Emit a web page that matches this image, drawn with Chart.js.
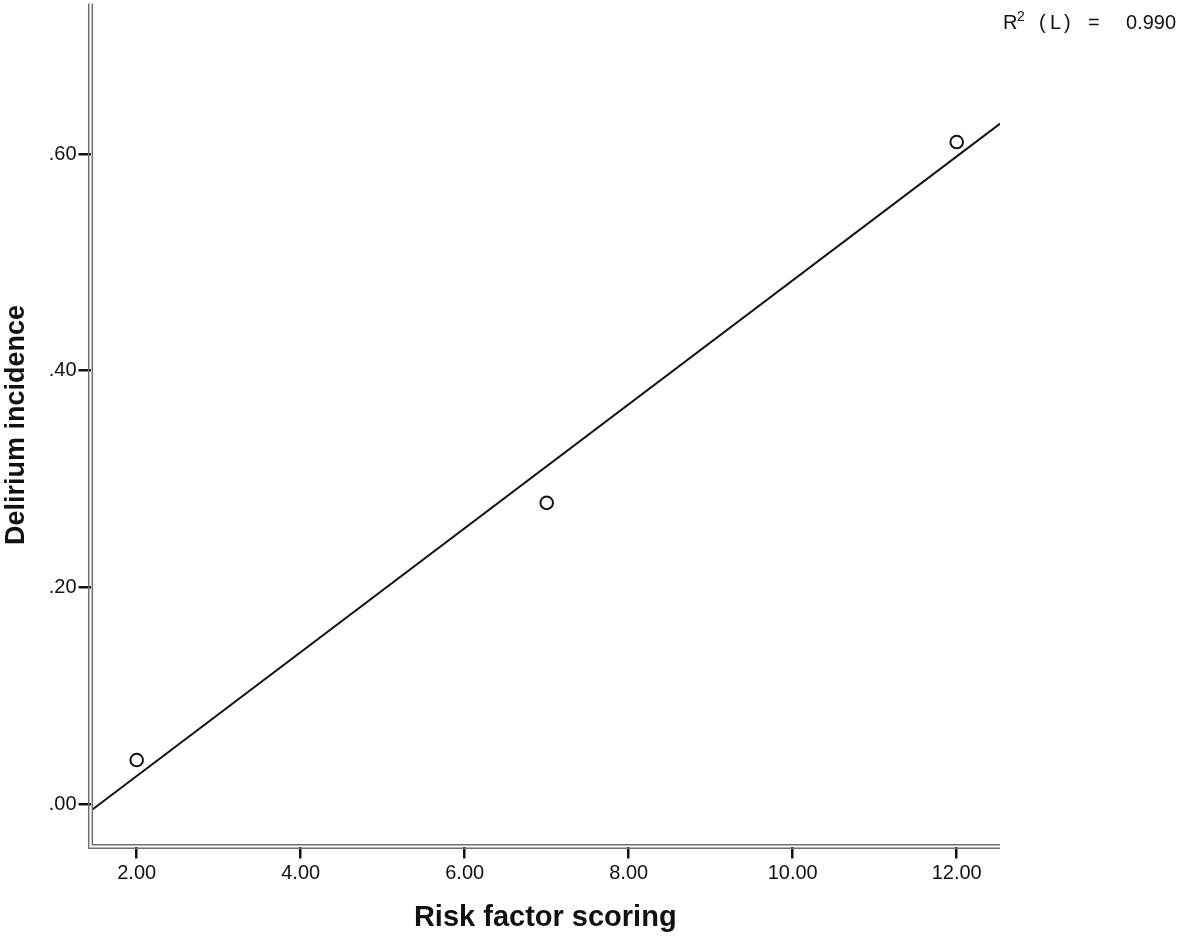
<!DOCTYPE html>
<html>
<head>
<meta charset="utf-8">
<script src="https://cdn.jsdelivr.net/npm/chart.js@4"></script>
<style>
    body { margin: 0; background: #fff; }
    #wrap { width: 1181px; height: 940px; position: relative; }
</style>
</head>
<body>
<div id="wrap"><canvas id="scatter-chart"></canvas></div>
<script>
// values
const scoreX = [2, 7, 12];
const incidence = [0.0406, 0.278, 0.611];
// fitted linear line, its two visible ends
const fitLineX = [1.46, 12.53];
const fitLineY = [-0.005, 0.628];
const xTicks = [2, 4, 6, 8, 10, 12];
const yTicks = [0, 0.2, 0.4, 0.6];
const rSquared = '0.990';

const fontFamily = '"Liberation Sans", Arial, sans-serif';

// SPSS style double axis lines + the R2 note
const spssAxes = {
    id: 'spssAxes',
    afterDraw(chart) {
        const ctx = chart.ctx;
        const a = chart.chartArea;
        ctx.save();
        ctx.strokeStyle = '#6f6f6f';
        ctx.lineWidth = 1.5;
        ctx.beginPath();
        // outer lines
        ctx.moveTo(a.left - 1.8, a.top);
        ctx.lineTo(a.left - 1.8, a.bottom + 1.8);
        ctx.lineTo(a.right, a.bottom + 1.8);
        // inner lines
        ctx.moveTo(a.left + 1.8, a.top);
        ctx.lineTo(a.left + 1.8, a.bottom - 1.8);
        ctx.lineTo(a.right, a.bottom - 1.8);
        ctx.stroke();

        ctx.fillStyle = '#111';
        ctx.textBaseline = 'alphabetic';
        ctx.font = '20px ' + fontFamily;
        ctx.fillText('R', 1003, 29);
        ctx.fillText('(', 1039, 29);
        ctx.fillText('L', 1050, 29);
        ctx.fillText(')', 1064, 29);
        ctx.fillText('=', 1088, 29);
        ctx.fillText(rSquared, 1126, 29);
        ctx.font = '14px ' + fontFamily;
        ctx.fillText('2', 1017, 21);
        ctx.restore();
    }
};

const ctx = document.getElementById('scatter-chart').getContext('2d');
const chart = new Chart(ctx, {
    type: 'scatter',
    data: {
        datasets: [{
            label: 'Observed',
            data: scoreX.map((x, i) => ({x: x, y: incidence[i]})),
            pointStyle: 'circle',
            pointRadius: 6.3,
            pointBorderWidth: 2,
            pointBorderColor: '#111',
            pointBackgroundColor: '#fff',
            showLine: false
        }, {
            label: 'Linear',
            data: fitLineX.map((x, i) => ({x: x, y: fitLineY[i]})),
            showLine: true,
            borderColor: '#111',
            borderWidth: 2,
            pointRadius: 0,
            order: 1
        }]
    },
    options: {
        responsive: true,
        maintainAspectRatio: false,
        animation: false,
        layout: {
            autoPadding: false,
            padding: { left: 0, right: 181, top: 3.5, bottom: 0 }
        },
        plugins: {
            legend: { display: false },
            tooltip: { enabled: false }
        },
        scales: {
            x: {
                type: 'linear',
                min: 1.4366,
                max: 12.528,
                afterFit: s => {
                    s.height = 93.5;
                    s.paddingLeft = 0;
                    s.paddingRight = 0;
                },
                afterBuildTicks: s => { s.ticks = xTicks.map(v => ({value: v})); },
                border: { display: false },
                grid: {
                    drawOnChartArea: false,
                    drawTicks: true,
                    tickLength: 12,
                    color: '#111',
                    lineWidth: 2.5
                },
                ticks: {
                    padding: 3,
                    color: '#111',
                    font: { family: fontFamily, size: 20 },
                    callback: v => v.toFixed(2)
                },
                title: {
                    display: true,
                    text: 'Risk factor scoring',
                    color: '#111',
                    font: { family: fontFamily, size: 29, weight: 'bold' },
                    padding: { top: 0, bottom: 5 }
                }
            },
            y: {
                type: 'linear',
                min: -0.0392,
                max: 0.7389,
                afterFit: s => {
                    s.width = 90.5;
                    s.paddingTop = 0;
                    s.paddingBottom = 0;
                },
                afterBuildTicks: s => { s.ticks = yTicks.map(v => ({value: v})); },
                border: { display: false },
                grid: {
                    drawOnChartArea: false,
                    drawTicks: true,
                    tickLength: 12,
                    color: '#111',
                    lineWidth: 2.5
                },
                ticks: {
                    padding: 2,
                    color: '#111',
                    font: { family: fontFamily, size: 20 },
                    callback: v => v.toFixed(2).replace(/^0/, '')
                },
                title: {
                    display: true,
                    text: 'Delirium incidence',
                    color: '#111',
                    font: { family: fontFamily, size: 27, weight: 'bold' },
                    padding: { top: 0, bottom: 0 }
                }
            }
        }
    },
    plugins: [spssAxes]
});
</script>
</body>
</html>
